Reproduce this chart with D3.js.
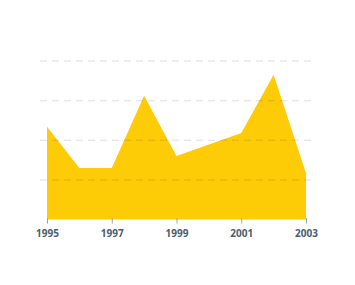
<!DOCTYPE html>
<html>
<head>
<meta charset="utf-8">
<script src="https://cdn.jsdelivr.net/npm/d3@7"></script>
<style>
  body { margin: 0; background: #fff; }
  .axis text { font-family: "Open Sans", sans-serif; font-weight: bold; font-size: 10px; fill: #4b5b6a; }
</style>
</head>
<body>
<div id="chart-area"></div>
<script>
var years = [1995, 1996, 1997, 1998, 1999, 2000, 2001, 2002, 2003];
var values = [2.34, 1.3, 1.3, 3.12, 1.6, 1.89, 2.18, 3.65, 1.17];
var tickYears = [1995, 1997, 1999, 2001, 2003];
var gridValues = [1, 2, 3, 4];

var data = years.map(function(y, i) {
    return { year: y, value: values[i] };
});

var svg = d3.select("#chart-area")
    .append("svg")
    .attr("width", 355)
    .attr("height", 285);

var x = d3.scaleLinear()
    .domain([1995, 2003])
    .range([47, 306]);

var y = d3.scaleLinear()
    .domain([0, 4])
    .range([219.5, 61]);

var area = d3.area()
    .x(function(d) { return x(d.year); })
    .y0(y(0))
    .y1(function(d) { return y(d.value); });

svg.append("path")
    .datum(data)
    .attr("d", area)
    .attr("fill", "#fecb07");

// dashed grid, drawn over the area
svg.selectAll("line.grid")
    .data(gridValues)
    .enter()
    .append("line")
    .attr("class", "grid")
    .attr("x1", 40)
    .attr("x2", 313)
    .attr("y1", function(d) { return y(d); })
    .attr("y2", function(d) { return y(d); })
    .attr("stroke", "rgba(0,0,0,0.09)")
    .attr("stroke-width", 1.5)
    .attr("stroke-dasharray", "7,5");

var xAxis = d3.axisBottom(x)
    .tickValues(tickYears)
    .tickFormat(d3.format("d"))
    .tickSizeInner(4)
    .tickSizeOuter(0)
    .tickPadding(6);

var gx = svg.append("g")
    .attr("class", "axis")
    .attr("transform", "translate(0," + y(0) + ")")
    .call(xAxis);

gx.select(".domain").remove();
gx.selectAll(".tick line")
    .attr("stroke", "#9aa3ab")
    .attr("y1", -1.5);
</script>
</body>
</html>
